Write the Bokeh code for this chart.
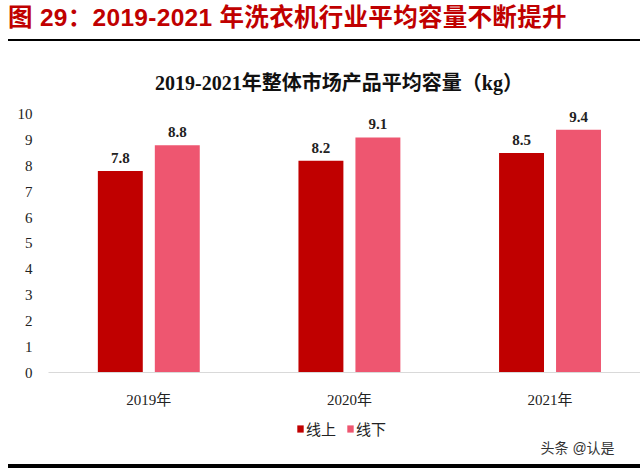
from bokeh.plotting import figure
from bokeh.layouts import column
from bokeh.models import (ColumnDataSource, FixedTicker, Label, Div,
                          Legend, LegendItem, Range1d)
from bokeh.core.properties import value
from bokeh.embed import file_html
from bokeh.resources import INLINE

# ---- data ----
years = ["2019年", "2020年", "2021年"]
online = [7.8, 8.2, 8.5]
offline = [8.8, 9.1, 9.4]
y_ticks = list(range(0, 11))
series_names = ["线上", "线下"]
header_text = "图 29：2019-2021 年洗衣机行业平均容量不断提升"
chart_title = "2019-2021年整体市场产品平均容量（kg）"
source_note = "头条 @认是"

C_ON = "#C00000"
C_OFF = "#EE5670"
SERIF = "Liberation Serif, Noto Sans CJK SC"
SANS = "Liberation Sans, Noto Sans CJK SC"
W = 640

# ---- header (HTML) ----
header_html = f"""
<div style="position:relative;width:{W}px;height:100px;">
  <div style="position:absolute;left:8px;top:0px;height:36px;line-height:36px;white-space:nowrap;letter-spacing:0.3px;
       font-family:'Liberation Sans','Noto Sans CJK SC';font-size:24.5px;font-weight:bold;color:{C_ON};">{header_text}</div>
  <div style="position:absolute;left:8px;top:39px;width:{W-8}px;height:2px;background:#000;"></div>
  <div style="position:absolute;left:139px;top:70px;width:400px;height:26px;line-height:26px;text-align:center;white-space:nowrap;
       font-family:'Liberation Serif','Noto Sans CJK SC';font-size:20px;font-weight:bold;color:#111;">{chart_title}</div>
</div>"""
head = Div(text=header_html, width=W, height=100, margin=0)

# ---- main chart ----
idx = list(range(len(years)))
off = 0.142
w = 0.224
src = ColumnDataSource(dict(
    x_on=[i - off for i in idx], x_off=[i + off for i in idx],
    online=online, offline=offline,
    on_lbl=[f"{v:.1f}" for v in online], off_lbl=[f"{v:.1f}" for v in offline],
))

p = figure(width=W, height=310, output_backend="svg", toolbar_location=None,
           x_range=Range1d(-0.5, 2.451), y_range=Range1d(0, 10.3),
           min_border_left=48, min_border_right=0, min_border_top=6,
           min_border_bottom=37, outline_line_color=None)
p.xgrid.visible = False
p.ygrid.visible = False

p.vbar(x="x_on", top="online", width=w, source=src, fill_color=C_ON, line_color=None)
p.vbar(x="x_off", top="offline", width=w, source=src, fill_color=C_OFF, line_color=None)

for xcol, ycol, lcol in (("x_on", "online", "on_lbl"), ("x_off", "offline", "off_lbl")):
    p.text(x=xcol, y=ycol, text=lcol, source=src, y_offset=-8,
           text_align="center", text_baseline="bottom",
           text_font=value("Liberation Serif"), text_font_size="15px",
           text_font_style="bold", text_color="#222222")

p.xaxis.ticker = FixedTicker(ticks=idx)
p.xaxis.major_label_overrides = {i: y for i, y in enumerate(years)}
p.xaxis.axis_line_color = "#D9D9D9"
p.xaxis.major_tick_line_color = None
p.xaxis.minor_tick_line_color = None
p.xaxis.major_label_standoff = 13
p.xaxis.major_label_text_font = SERIF
p.xaxis.major_label_text_font_size = "15px"
p.xaxis.major_label_text_color = "#222222"

p.yaxis.ticker = FixedTicker(ticks=y_ticks)
p.yaxis.axis_line_color = None
p.yaxis.major_tick_line_color = None
p.yaxis.minor_tick_line_color = None
p.yaxis.major_label_standoff = 10
p.yaxis.major_label_text_font = SERIF
p.yaxis.major_label_text_font_size = "15px"
p.yaxis.major_label_text_color = "#222222"

# ---- footer: legend + source note (same borders as the main plot) ----
foot = figure(width=W, height=50, output_backend="svg", toolbar_location=None,
              x_range=Range1d(0, 1), y_range=Range1d(0, 1),
              x_axis_location=None, y_axis_location=None,
              min_border_left=48, min_border_right=0, min_border_top=0,
              min_border_bottom=0, outline_line_color=None)
foot.xgrid.visible = False
foot.ygrid.visible = False
# legend proxies: kept outside the visible range, only their legend swatches show
proxy = ColumnDataSource(dict(x=[-5], top=[-5]))
g_on = foot.vbar(x="x", top="top", width=0.1, source=proxy, fill_color=C_ON, line_color=None)
g_off = foot.vbar(x="x", top="top", width=0.1, source=proxy, fill_color=C_OFF, line_color=None)
legend = Legend(items=[LegendItem(label=series_names[0], renderers=[g_on]),
                       LegendItem(label=series_names[1], renderers=[g_off])],
                orientation="horizontal", location=(248, 21),
                glyph_width=8, glyph_height=9, label_standoff=2, spacing=10,
                label_text_font=SERIF, label_text_font_size="15px",
                label_text_color="#222222", border_line_color=None,
                padding=4, margin=0, background_fill_alpha=0)
foot.add_layout(legend)
foot.add_layout(Label(x=492, y=13, x_units="screen", y_units="screen",
                      text=source_note, text_font=SANS, text_font_size="14px",
                      text_color="#333333", text_baseline="middle", text_align="left"))

# ---- bottom rule (HTML) ----
rule = Div(text=f'<div style="position:relative;width:{W}px;height:10px;">'
                f'<div style="position:absolute;left:8px;top:2px;width:{W-8}px;height:4px;background:#000;"></div></div>',
           width=W, height=10, margin=0)

layout = column(head, p, foot, rule, spacing=0)
open("out.html", "w").write(file_html(layout, INLINE))
